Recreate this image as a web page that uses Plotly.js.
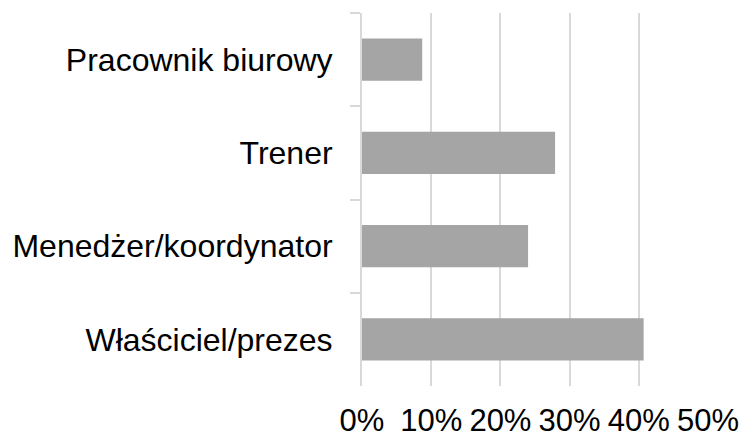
<!DOCTYPE html>
<html>
<head>
<meta charset="utf-8">
<script src="https://cdn.plot.ly/plotly-3.0.1.min.js"></script>
<style>html,body{margin:0;padding:0;background:#fff;}#chart{width:745px;height:438px;}</style>
</head>
<body>
<div id="chart"></div>
<script>
const categories = ["Pracownik biurowy", "Trener", "Menedżer/koordynator", "Właściciel/prezes"];
const values = [0.087, 0.279, 0.240, 0.407];
const xTickValues = [0, 0.1, 0.2, 0.3, 0.4, 0.5];

const FONT = "Liberation Sans, Arial, sans-serif";

Plotly.newPlot("chart", [{
  type: "bar",
  orientation: "h",
  y: categories,
  x: values,
  marker: {color: "#a5a5a5", line: {width: 0}},
  hoverinfo: "none"
}], {
  width: 745,
  height: 438,
  margin: {l: 362, r: 37, t: 13, b: 52, pad: 0},
  paper_bgcolor: "#ffffff",
  plot_bgcolor: "#ffffff",
  bargap: 0.545,
  showlegend: false,
  font: {family: FONT, size: 32, color: "#000000"},
  xaxis: {
    range: [0, 0.5],
    tickvals: xTickValues,
    tickformat: ".0%",
    showgrid: true,
    gridcolor: "#d9d9d9",
    gridwidth: 2,
    zeroline: false,
    showline: false,
    ticks: "",
    automargin: false,
    tickfont: {family: FONT, size: 31, color: "#000000"},
    ticklabelstandoff: 13
  },
  yaxis: {
    type: "category",
    autorange: false,
    range: [3.5, -0.5],
    showgrid: false,
    zeroline: false,
    showline: true,
    linecolor: "#d9d9d9",
    linewidth: 2,
    ticks: "outside",
    tickson: "boundaries",
    ticklen: 10,
    tickcolor: "#d9d9d9",
    tickwidth: 2,
    automargin: false,
    tickfont: {family: FONT, size: 32, color: "#000000"},
    ticklabelstandoff: 21
  }
}, {displayModeBar: false, staticPlot: true});
</script>
</body>
</html>
